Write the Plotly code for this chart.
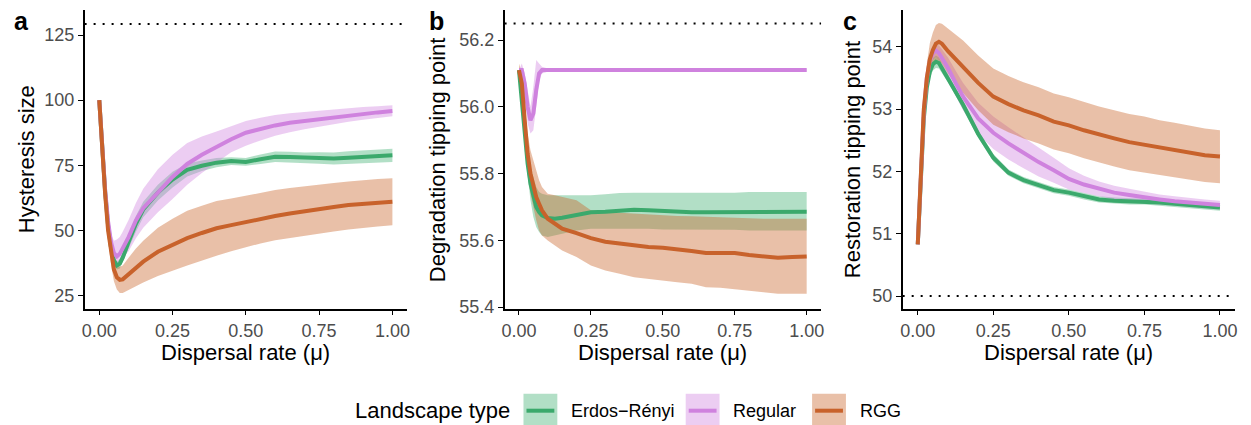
import plotly.graph_objects as go

W, H = 1251, 425
FONT = "Liberation Sans, Arial, Helvetica, sans-serif"

# Dispersal rates at which the landscapes were evaluated
mu = [0, 0.01, 0.02, 0.03, 0.04, 0.05, 0.06, 0.07, 0.08, 0.1, 0.125, 0.15, 0.2,
      0.25, 0.3, 0.35, 0.4, 0.45, 0.5, 0.55, 0.6, 0.65, 0.7, 0.75, 0.8, 0.85,
      0.9, 0.95, 1.0]

landscapes = ["Erdos\u2212Rényi", "Regular", "RGG"]
line_colors = ["#3BA96C", "#CF82DE", "#C8622B"]
band_colors = ["rgba(62,175,112,0.4)", "rgba(207,130,222,0.4)", "rgba(200,97,37,0.4)"]

# ---- a: hysteresis size ----
hyst_er = [100, 81.5, 65, 52, 43.5, 38.5, 36.5, 37.2, 39.5, 45.5, 52.5, 58, 64.5,
           69.5, 73.2, 74.8, 76, 76.6, 76.3, 77.3, 78.3, 78.2, 77.9, 77.8, 77.6,
           77.9, 78.2, 78.5, 78.8]
hyst_er_lo = [100, 80.5, 63.5, 50.5, 42, 37, 35, 35.4, 37.5, 43, 49.5, 55, 61.5,
              66.5, 70.7, 72.8, 74.2, 75.1, 74.8, 75.5, 76.3, 76.2, 75.9, 75.6,
              75.3, 75.4, 75.7, 76, 76.3]
hyst_er_hi = [100, 82.5, 66.5, 53.5, 45, 40, 38, 39, 41.5, 48, 55.5, 61, 67.5,
              72.5, 75.7, 76.8, 77.8, 78.1, 77.8, 79.1, 80.3, 80.2, 79.9, 80,
              79.9, 80.4, 80.7, 81, 81.3]
hyst_reg = [100, 82, 65.5, 53.5, 45.5, 41.3, 40, 41, 43, 47.4, 53.8, 58.5, 64.5,
            70.5, 75.5, 79, 82, 85, 87.5, 89, 90.3, 91.3, 92, 92.6, 93.3, 94,
            94.8, 95.3, 95.8]
hyst_reg_lo = [100, 80, 63, 51, 43, 38.5, 37.3, 38, 39.5, 42, 47, 51, 57, 62,
               67.5, 72, 76, 80, 82.5, 84.5, 86.3, 87.7, 88.8, 89.8, 90.8, 91.7,
               92.5, 93.2, 93.8]
hyst_reg_hi = [100, 84, 68, 56, 48.5, 46, 46.5, 47.5, 49.5, 54, 60.5, 66, 73.5,
               79, 83.5, 86, 88, 90, 92, 93.2, 94.3, 95, 95.5, 96, 96.5, 97, 97.4,
               97.7, 98]
hyst_rgg = [100, 81, 64, 50, 41, 35, 32, 31, 31.2, 33.2, 35.8, 38, 41.8, 44.5,
            47, 49, 50.8, 52, 53.2, 54.5, 55.5, 56.5, 57.4, 58.3, 59, 59.7, 60.2,
            60.6, 61]
hyst_rgg_lo = [100, 79, 61, 46.5, 37, 30.5, 27.3, 26, 26, 27, 28.5, 30, 32.5,
               34.5, 36.5, 38.5, 40.3, 42, 43.6, 45, 46.2, 47.2, 48, 48.8, 49.6,
               50.3, 51, 51.5, 52]
hyst_rgg_hi = [100, 83, 67, 53.5, 45, 39.5, 37, 36, 36.5, 39.5, 43, 46, 51, 54.5,
               57.5, 59.5, 61.3, 62.2, 63.3, 64.5, 65.5, 66.3, 67, 67.5, 68.2,
               68.8, 69.3, 69.7, 70]
hyst_ref = 129.2

# ---- b: degradation tipping point ----
degr_er = [56.11, 56.02, 55.9, 55.83, 55.77, 55.73, 55.7, 55.685, 55.675, 55.667,
           55.665, 55.668, 55.676, 55.684, 55.686, 55.688, 55.692, 55.69, 55.687,
           55.684, 55.684, 55.684, 55.684, 55.685, 55.686, 55.686, 55.686, 55.686,
           55.686]
degr_er_lo = [56.11, 56.0, 55.87, 55.79, 55.72, 55.67, 55.64, 55.625, 55.615,
              55.61, 55.615, 55.62, 55.63, 55.635, 55.635, 55.635, 55.635, 55.635,
              55.633, 55.632, 55.632, 55.632, 55.632, 55.632, 55.63, 55.628,
              55.628, 55.63, 55.63]
degr_er_hi = [56.11, 56.05, 55.93, 55.87, 55.82, 55.79, 55.76, 55.745, 55.74,
              55.735, 55.735, 55.735, 55.735, 55.735, 55.738, 55.742, 55.743,
              55.743, 55.742, 55.742, 55.743, 55.743, 55.743, 55.743, 55.745,
              55.745, 55.745, 55.745, 55.745]
degr_reg = [56.11, 56.11, 56.07, 56.0, 55.96, 55.98, 56.05, 56.1, 56.11, 56.11,
            56.11, 56.11, 56.11, 56.11, 56.11, 56.11, 56.11, 56.11, 56.11, 56.11,
            56.11, 56.11, 56.11, 56.11, 56.11, 56.11, 56.11, 56.11, 56.11]
degr_reg_lo = [56.11, 56.1, 56.04, 55.95, 55.92, 55.93, 56.0, 56.08, 56.1, 56.105,
               56.105, 56.105, 56.105, 56.105, 56.105, 56.105, 56.105, 56.105,
               56.105, 56.105, 56.105, 56.105, 56.105, 56.105, 56.105, 56.105,
               56.105, 56.105, 56.105]
degr_reg_hi = [56.11, 56.13, 56.1, 56.05, 56.0, 56.06, 56.14, 56.13, 56.12, 56.115,
               56.115, 56.115, 56.115, 56.115, 56.115, 56.115, 56.115, 56.115,
               56.115, 56.115, 56.115, 56.115, 56.115, 56.115, 56.115, 56.115,
               56.115, 56.115, 56.115]
degr_rgg = [56.11, 56.07, 55.96, 55.86, 55.8, 55.76, 55.73, 55.71, 55.69, 55.665,
            55.65, 55.635, 55.622, 55.607, 55.596, 55.59, 55.585, 55.58, 55.578,
            55.574, 55.568, 55.562, 55.561, 55.562, 55.556, 55.552, 55.548, 55.55,
            55.552]
degr_rgg_lo = [56.11, 56.05, 55.93, 55.8, 55.74, 55.7, 55.66, 55.63, 55.615, 55.6,
               55.585, 55.57, 55.55, 55.525, 55.51, 55.5, 55.49, 55.485, 55.48,
               55.475, 55.47, 55.46, 55.458, 55.455, 55.45, 55.445, 55.44, 55.44,
               55.44]
degr_rgg_hi = [56.13, 56.1, 56.0, 55.92, 55.87, 55.84, 55.81, 55.78, 55.76, 55.74,
               55.735, 55.73, 55.72, 55.69, 55.685, 55.683, 55.68, 55.678, 55.675,
               55.673, 55.672, 55.67, 55.67, 55.668, 55.666, 55.665, 55.665,
               55.665, 55.665]
degr_ref = 56.25

# ---- c: restoration tipping point ----
rest_er = [50.83, 52.0, 52.85, 53.35, 53.6, 53.72, 53.76, 53.74, 53.66, 53.5,
           53.28, 53.07, 52.6, 52.22, 51.98, 51.86, 51.78, 51.7, 51.66, 51.6,
           51.55, 51.53, 51.52, 51.52, 51.5, 51.48, 51.46, 51.44, 51.42]
rest_er_lo = [50.83, 51.95, 52.78, 53.27, 53.5, 53.62, 53.66, 53.65, 53.58, 53.43,
              53.22, 53.01, 52.54, 52.16, 51.93, 51.81, 51.73, 51.65, 51.61,
              51.55, 51.5, 51.48, 51.47, 51.47, 51.45, 51.43, 51.41, 51.39, 51.37]
rest_er_hi = [50.83, 52.05, 52.92, 53.43, 53.7, 53.82, 53.86, 53.83, 53.74, 53.57,
              53.34, 53.13, 52.66, 52.28, 52.03, 51.91, 51.83, 51.75, 51.71,
              51.65, 51.6, 51.58, 51.57, 51.57, 51.55, 51.53, 51.51, 51.49, 51.47]
rest_reg = [50.83, 52.05, 52.95, 53.5, 53.78, 53.9, 53.94, 53.9, 53.82, 53.66,
            53.42, 53.2, 52.85, 52.62, 52.45, 52.3, 52.15, 52.02, 51.88, 51.79,
            51.72, 51.66, 51.62, 51.58, 51.55, 51.52, 51.5, 51.48, 51.46]
rest_reg_lo = [50.83, 52.0, 52.87, 53.4, 53.68, 53.8, 53.84, 53.78, 53.68, 53.49,
               53.22, 52.98, 52.6, 52.36, 52.19, 52.05, 51.92, 51.82, 51.71,
               51.65, 51.6, 51.55, 51.52, 51.49, 51.47, 51.44, 51.43, 51.41, 51.39]
rest_reg_hi = [50.83, 52.1, 53.03, 53.6, 53.88, 54.0, 54.04, 54.02, 53.96, 53.83,
               53.62, 53.42, 53.1, 52.88, 52.71, 52.55, 52.38, 52.22, 52.05,
               51.93, 51.84, 51.77, 51.72, 51.67, 51.63, 51.6, 51.57, 51.55, 51.53]
rest_rgg = [50.83, 52.1, 53.0, 53.5, 53.8, 53.95, 54.05, 54.08, 54.05, 53.93,
            53.8, 53.68, 53.42, 53.2, 53.08, 52.98, 52.9, 52.8, 52.74, 52.66,
            52.59, 52.53, 52.47, 52.43, 52.38, 52.34, 52.3, 52.26, 52.24]
rest_rgg_lo = [50.83, 52.0, 52.82, 53.27, 53.54, 53.67, 53.75, 53.78, 53.73,
               53.57, 53.4, 53.26, 52.98, 52.75, 52.63, 52.53, 52.45, 52.35,
               52.29, 52.21, 52.14, 52.08, 52.02, 51.98, 51.94, 51.9, 51.87,
               51.83, 51.81]
rest_rgg_hi = [50.83, 52.2, 53.18, 53.73, 54.06, 54.23, 54.35, 54.38, 54.37,
               54.29, 54.2, 54.1, 53.86, 53.65, 53.53, 53.43, 53.35, 53.25,
               53.19, 53.11, 53.04, 52.98, 52.92, 52.88, 52.82, 52.78, 52.73,
               52.69, 52.66]
rest_ref = 50

x_ticks = [0, 0.25, 0.5, 0.75, 1.0]
panels = [
    dict(xa="x", ya="y", letter="a", ytitle="Hysteresis size", ref=hyst_ref,
         yticks=[25, 50, 75, 100, 125], fmt="d", yrange=[20.0, 134.6],
         series=[(hyst_er, hyst_er_lo, hyst_er_hi), (hyst_reg, hyst_reg_lo, hyst_reg_hi),
                 (hyst_rgg, hyst_rgg_lo, hyst_rgg_hi)]),
    dict(xa="x2", ya="y2", letter="b", ytitle="Degradation tipping point", ref=degr_ref,
         yticks=[55.4, 55.6, 55.8, 56.0, 56.2], fmt=".1f", yrange=[55.396, 56.29],
         series=[(degr_er, degr_er_lo, degr_er_hi), (degr_reg, degr_reg_lo, degr_reg_hi),
                 (degr_rgg, degr_rgg_lo, degr_rgg_hi)]),
    dict(xa="x3", ya="y3", letter="c", ytitle="Restoration tipping point", ref=rest_ref,
         yticks=[50, 51, 52, 53, 54], fmt="d", yrange=[49.8, 54.59],
         series=[(rest_er, rest_er_lo, rest_er_hi), (rest_reg, rest_reg_lo, rest_reg_hi),
                 (rest_rgg, rest_rgg_lo, rest_rgg_hi)]),
]

# panel geometry in pixels: (left, right) of each plotting area, shared top/bottom
panel_px = [(82, 406), (504, 822), (904, 1238)]
top_px, bottom_px = 10, 308
ytitle_px = [23, 436, 853]
letter_px = [9, 426, 842]
# vertical layout is laid out on a slightly shorter page scale
V_SCALE = 415.3


def px_x(px):
    return px / W


def px_y(py):
    return 1 - py / V_SCALE


fig = go.Figure()

for p in panels:
    # ribbons first, then the mean lines on top
    for (mean, lo, hi), band in zip(p["series"], band_colors):
        fig.add_trace(go.Scatter(
            x=mu + mu[::-1], y=hi + lo[::-1], xaxis=p["xa"], yaxis=p["ya"],
            fill="toself", fillcolor=band, line=dict(width=0), mode="lines",
            hoverinfo="skip", showlegend=False))
    for (mean, lo, hi), col, name in zip(p["series"], line_colors, landscapes):
        fig.add_trace(go.Scatter(
            x=mu, y=mean, xaxis=p["xa"], yaxis=p["ya"], mode="lines", name=name,
            line=dict(color=col, width=4), showlegend=False))

axis_common = dict(showgrid=False, zeroline=False, showline=True, linecolor="black",
                   linewidth=1.6, ticks="outside", ticklen=5, tickwidth=1.4,
                   tickcolor="black", tickfont=dict(family=FONT, size=18, color="#4D4D4D"))

layout = dict(width=W, height=H, margin=dict(l=0, r=0, t=0, b=0),
              paper_bgcolor="white", plot_bgcolor="white", showlegend=False)
shapes, annotations = [], []

for i, p in enumerate(panels):
    sfx = "" if i == 0 else str(i + 1)
    l, r = panel_px[i]
    layout["xaxis" + sfx] = dict(axis_common, domain=[px_x(l), px_x(r)], range=[-0.05, 1.05],
                                 tickvals=x_ticks, tickformat=".2f", anchor=p["ya"])
    layout["yaxis" + sfx] = dict(axis_common, domain=[px_y(bottom_px), px_y(top_px)],
                                 range=p["yrange"], tickvals=p["yticks"],
                                 tickformat=p["fmt"], anchor=p["xa"])
    # reference level
    shapes.append(dict(type="line", xref=p["xa"] + " domain", yref=p["ya"], x0=0, x1=1,
                       y0=p["ref"], y1=p["ref"],
                       line=dict(color="black", width=2, dash="2px,7px")))
    annotations.append(dict(text="Dispersal rate (\u03bc)", xref="paper", yref="paper",
                            x=px_x((l + r) / 2), y=px_y(352), xanchor="center",
                            yanchor="middle", showarrow=False,
                            font=dict(family=FONT, size=22, color="black")))
    annotations.append(dict(text=p["ytitle"], xref="paper", yref="paper",
                            x=px_x(ytitle_px[i]), y=px_y((top_px + bottom_px) / 2),
                            xanchor="center", yanchor="middle", textangle=-90,
                            showarrow=False, font=dict(family=FONT, size=22, color="black")))
    annotations.append(dict(text="<b>" + p["letter"] + "</b>", xref="paper", yref="paper",
                            x=px_x(letter_px[i]), y=px_y(21), xanchor="left",
                            yanchor="middle", showarrow=False,
                            font=dict(family=FONT, size=25, color="black")))

# legend drawn along the bottom
leg_y = 410
annotations.append(dict(text="Landscape type", xref="paper", yref="paper",
                        x=px_x(352), y=px_y(leg_y), xanchor="left", yanchor="middle",
                        showarrow=False, font=dict(family=FONT, size=22, color="black")))
key_px = [523, 686, 813]
for kx, name, col, band in zip(key_px, landscapes, line_colors, band_colors):
    shapes.append(dict(type="rect", xref="paper", yref="paper",
                       x0=px_x(kx), x1=px_x(kx + 34), y0=px_y(leg_y + 17), y1=px_y(leg_y - 17),
                       fillcolor=band, line=dict(width=0)))
    shapes.append(dict(type="line", xref="paper", yref="paper",
                       x0=px_x(kx + 3), x1=px_x(kx + 31), y0=px_y(leg_y), y1=px_y(leg_y),
                       line=dict(color=col, width=4)))
    annotations.append(dict(text=name, xref="paper", yref="paper",
                            x=px_x(kx + 46), y=px_y(leg_y), xanchor="left", yanchor="middle",
                            showarrow=False, font=dict(family=FONT, size=18, color="black")))

layout["shapes"] = shapes
layout["annotations"] = annotations
fig.update_layout(**layout)

fig.write_html("out.html")
